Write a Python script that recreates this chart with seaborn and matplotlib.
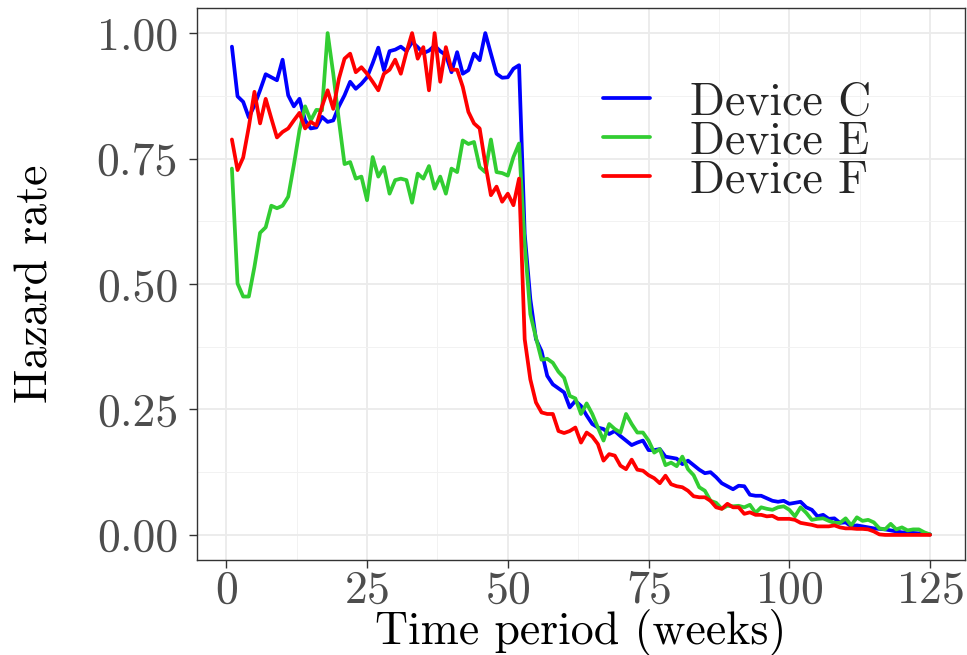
import numpy as np
import pandas as pd
import matplotlib
matplotlib.use("Agg")
import matplotlib.pyplot as plt
import seaborn as sns
from matplotlib.ticker import MultipleLocator, FixedLocator, StrMethodFormatter

# Weekly hazard rates per device
weeks = list(range(1, 126))

device_c = [
    0.973, 0.874, 0.863, 0.832, 0.856, 0.886, 0.918, 0.912, 0.906, 0.947,
    0.876, 0.854, 0.869, 0.826, 0.810, 0.812, 0.833, 0.823, 0.826, 0.854,
    0.876, 0.903, 0.889, 0.899, 0.912, 0.940,
    0.971, 0.926, 0.964, 0.967, 0.973, 0.964, 0.982, 0.972, 0.960, 0.965,
    0.975, 0.964, 0.956, 0.922, 0.962, 0.919, 0.926, 0.959, 0.946, 1.000,
    0.959, 0.919, 0.911, 0.912, 0.929, 0.936,
    0.600, 0.470, 0.390, 0.366, 0.317, 0.300, 0.292, 0.284, 0.254, 0.267,
    0.257, 0.238, 0.221, 0.214, 0.211, 0.201, 0.207, 0.197, 0.188, 0.179,
    0.184, 0.188, 0.169, 0.169,
    0.171, 0.156, 0.154, 0.152, 0.141, 0.148, 0.139, 0.130, 0.123, 0.125,
    0.115, 0.103, 0.097, 0.091, 0.098, 0.097, 0.080, 0.078, 0.078, 0.073,
    0.068, 0.066, 0.068,
    0.062, 0.064, 0.066, 0.055, 0.050, 0.037, 0.040, 0.032, 0.033, 0.024,
    0.025, 0.017, 0.019, 0.017, 0.015, 0.013, 0.012, 0.011, 0.009, 0.007,
    0.005, 0.005, 0.004, 0.003, 0.002, 0.001,
]

device_e = [
    0.730, 0.501, 0.475, 0.475, 0.534, 0.602, 0.613, 0.656, 0.651, 0.656,
    0.674, 0.737, 0.806, 0.854, 0.826, 0.847, 0.846, 1.000, 0.919, 0.826,
    0.739, 0.743, 0.710, 0.714, 0.667, 0.753,
    0.714, 0.733, 0.680, 0.707, 0.710, 0.707, 0.662, 0.720, 0.710, 0.735,
    0.690, 0.714, 0.680, 0.730, 0.723, 0.786, 0.779, 0.783, 0.733, 0.723,
    0.788, 0.723, 0.721, 0.716, 0.753, 0.780,
    0.580, 0.440, 0.393, 0.349, 0.351, 0.343, 0.325, 0.313, 0.277, 0.272,
    0.241, 0.262, 0.241, 0.214, 0.188, 0.221, 0.211, 0.204, 0.241, 0.221,
    0.204, 0.204, 0.188, 0.164,
    0.171, 0.139, 0.144, 0.137, 0.156, 0.131, 0.119, 0.095, 0.088, 0.068,
    0.064, 0.052, 0.058, 0.057, 0.058, 0.055, 0.060, 0.044, 0.055, 0.052,
    0.050, 0.055, 0.057,
    0.050, 0.037, 0.055, 0.044, 0.030, 0.032, 0.033, 0.028, 0.024, 0.024,
    0.033, 0.019, 0.035, 0.028, 0.030, 0.025, 0.013, 0.011, 0.022, 0.011,
    0.015, 0.009, 0.011, 0.011, 0.005, 0.001,
]

device_f = [
    0.788, 0.727, 0.752, 0.813, 0.883, 0.820, 0.869, 0.830, 0.792, 0.803,
    0.810, 0.826, 0.841, 0.810, 0.823, 0.816, 0.854, 0.886, 0.849, 0.909,
    0.949, 0.959, 0.922, 0.932, 0.919, 0.903,
    0.886, 0.919, 0.927, 0.947, 0.919, 0.962, 1.000, 0.949, 0.972, 0.886,
    1.000, 0.903, 0.972, 0.927, 0.927, 0.893, 0.843, 0.820, 0.810, 0.740,
    0.677, 0.694, 0.664, 0.680, 0.657, 0.710,
    0.390, 0.310, 0.264, 0.244, 0.241, 0.241, 0.207, 0.203, 0.207, 0.214,
    0.184, 0.204, 0.196, 0.181, 0.148, 0.161, 0.158, 0.138, 0.131, 0.150,
    0.130, 0.128, 0.119, 0.113,
    0.103, 0.118, 0.101, 0.097, 0.095, 0.088, 0.077, 0.075, 0.075, 0.068,
    0.055, 0.052, 0.062, 0.055, 0.055, 0.042, 0.045, 0.040, 0.040, 0.037,
    0.038, 0.032, 0.032,
    0.032, 0.030, 0.024, 0.022, 0.020, 0.017, 0.017, 0.017, 0.019, 0.015,
    0.013, 0.013, 0.012, 0.012, 0.011, 0.007, 0.001, 0.000, 0.000, 0.000,
    0.000, 0.000, 0.000, 0.000, 0.000, 0.000,
]

devices = ["Device C", "Device E", "Device F"]
colors = ["#0000FF", "#32CD32", "#FF0000"]

df = pd.DataFrame({
    "week": weeks * 3,
    "hazard": device_c + device_e + device_f,
    "device": np.repeat(devices, len(weeks)),
})

sns.set_theme(style="white")
plt.rcParams["font.family"] = ["cmr10", "DejaVu Serif"]
plt.rcParams["mathtext.fontset"] = "cm"
plt.rcParams["axes.formatter.use_mathtext"] = True

W, H = 967, 655
fig = plt.figure(figsize=(W / 100, H / 100), dpi=100)
ax = fig.add_axes([197 / W, 1 - 560 / H, (965 - 197) / W, (560 - 8) / H])

sns.lineplot(data=df, x="week", y="hazard", hue="device", hue_order=devices,
             palette=dict(zip(devices, colors)), linewidth=2.7, ax=ax)

ax.set_xlim(-5.2, 131.2)
ax.set_ylim(-0.05, 1.05)
ax.xaxis.set_major_locator(MultipleLocator(25))
ax.xaxis.set_minor_locator(FixedLocator([12.5, 37.5, 62.5, 87.5, 112.5]))
ax.yaxis.set_major_locator(FixedLocator([0, 0.25, 0.5, 0.75, 1.0]))
ax.yaxis.set_minor_locator(FixedLocator([0.125, 0.375, 0.625, 0.875]))
ax.yaxis.set_major_formatter(StrMethodFormatter("{x:.2f}"))

ax.grid(which="major", color="#EBEBEB", linewidth=1.3)
ax.grid(which="minor", color="#F2F2F2", linewidth=0.7)
ax.set_axisbelow(True)
for s in ax.spines.values():
    s.set_color("#333333")
    s.set_linewidth(1.0)

ax.tick_params(which="major", axis="both", direction="out", length=5.5,
               width=1.0, color="#333333", labelsize=33, labelcolor="#4D4D4D",
               bottom=True, left=True)
ax.tick_params(axis="y", pad=8)
ax.tick_params(axis="x", pad=1.5)
ax.tick_params(which="minor", length=0)

ax.set_xlabel("Time period (weeks)", fontsize=33, color="black", labelpad=-2)
ax.set_ylabel("Hazard rate", fontsize=33, color="black", labelpad=29)

handles, labels = ax.get_legend_handles_labels()
ax.legend(handles, labels, loc="center left", bbox_to_anchor=(0.529, 0.758),
          frameon=False, fontsize=33, handlelength=1.03, handletextpad=0.87,
          labelspacing=-0.06, borderpad=0, borderaxespad=0)

fig.savefig("out.png", dpi=100)
